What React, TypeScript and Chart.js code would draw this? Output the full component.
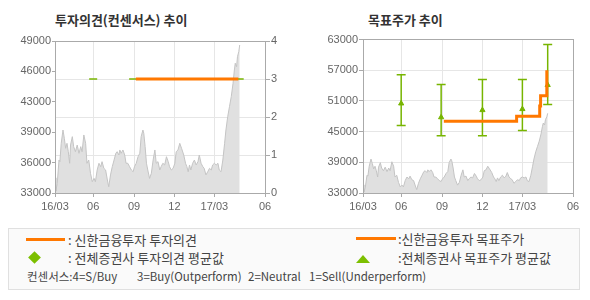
import React, { useEffect, useRef } from 'react';
import { Chart, registerables } from 'chart.js';

Chart.register(...registerables);

// x axis: days counted from 2016-03-01
const xMin = 6;
const xMax = 479;
const xTickDays = [6, 92, 184, 275, 365, 479];
const xTickLabels = ['16/03', '06', '09', '12', '17/03', '06'];

// stock price (gray area), day index / price
const priceDays = [
  6, 8, 11, 15, 17, 20, 24, 27, 30, 33,
  36, 39, 41, 45, 48, 52, 56, 60, 64, 67,
  71, 75, 78, 82, 86, 90, 94, 97, 101, 105,
  109, 112, 116, 120, 124, 127, 131, 135, 139, 143,
  146, 150, 152, 155, 159, 163, 166, 170, 174, 178,
  182, 185, 189, 193, 197, 200, 204, 206, 209, 212,
  215, 219, 223, 227, 231, 234, 238, 242, 245, 249,
  253, 257, 261, 264, 268, 272, 276, 279, 283, 287,
  291, 296, 300, 303, 306, 309, 312, 316, 320, 324,
  328, 331, 335, 339, 342, 346, 350, 354, 358, 361,
  365, 369, 373, 376, 380, 384, 388, 391, 395, 399,
  403, 407, 410, 412, 415, 417, 420, 422,
];
const priceValues = [
  34600, 33200, 34000, 36470, 36300, 38230, 39630, 38760, 37710, 38230,
  37350, 36130, 38050, 38930, 37880, 37350, 38050, 37180, 37880, 37350,
  39110, 38230, 36130, 36470, 35070, 34190, 34540, 34190, 35420, 36130,
  35770, 36300, 35600, 35420, 34370, 33660, 34900, 35770, 36470, 37180,
  37350, 37000, 37530, 37180, 37530, 37000, 36130, 36130, 35770, 35420,
  35240, 35770, 36130, 36820, 37180, 38930, 39630, 39290, 37880, 36130,
  35420, 34540, 35070, 36470, 37530, 36130, 36300, 35420, 35770, 36130,
  35950, 36820, 36300, 35770, 35420, 35600, 36130, 37350, 37530, 38230,
  37710, 37000, 36130, 35770, 35240, 35950, 35420, 36130, 36470, 35950,
  36300, 37000, 36130, 35770, 35600, 34900, 35240, 35600, 35420, 35950,
  36130, 35950, 36130, 35420, 35240, 36470, 38230, 39630, 41040, 42090,
  43140, 44550, 45950, 46660, 46300, 47350, 47880, 48580,
];

// Shinhan investment opinion (3 = Buy)
const opinionDays = [188, 419];
const opinionValues = [3, 3];

// consensus (all brokers) average opinion
const consensusDays = [92, 182, 275, 365, 422];
const consensusOpinion = [3, 3, 3, 3, 3];

// Shinhan target price (step line)
const targetDays = [188, 352, 404, 406, 420];
const targetValues = [47000, 48000, 50000, 52000, 57000];

// consensus target price: mean / high / low
const consensusTargetMean = [50500, 47800, 49200, 49400, 54100];
const consensusTargetHigh = [56100, 54200, 55200, 55200, 62000];
const consensusTargetLow = [46200, 44200, 44200, 45200, 50300];

// axis ticks
const leftPriceTicks = [33000, 36200, 39400, 42600, 45800, 49000];
const leftPriceTickLabels = ['33000', '36000', '39000', '43000', '46000', '49000'];
const opinionTicks = [0, 1, 2, 3, 4];
const rightPriceTicks = [33000, 39000, 45000, 51000, 57000, 63000];

const ORANGE = '#ff7800';
const GREEN = '#77b500';
const GRID = '#e6e6e6';
const TICKC = '#aaaaaa';
const TEXT = '#666666';
const TICK_FONT = { family: "'Liberation Sans', Arial, sans-serif", size: 11 };

const boxPlugin = {
  id: 'plotBox',
  afterDraw(chart: any) {
    const { ctx, chartArea: a } = chart;
    ctx.save();
    ctx.strokeStyle = '#aaaaaa';
    ctx.lineWidth = 1;
    const l = Math.floor(a.left), t = Math.floor(a.top), r = Math.floor(a.right), b = Math.floor(a.bottom);
    ctx.strokeRect(l + 0.5, t + 0.5, r - l, b - t);
    ctx.restore();
  },
};

function xScale() {
  return {
    type: 'linear',
    min: xMin,
    max: xMax,
    afterBuildTicks: (s: any) => { s.ticks = xTickDays.map((v) => ({ value: v })); },
    afterFit: (s: any) => { s.height = 32; },
    ticks: {
      autoSkip: false,
      maxRotation: 0,
      padding: 3,
      color: TEXT,
      font: TICK_FONT,
      callback: (_v: any, i: number) => xTickLabels[i],
    },
    grid: { color: GRID, tickColor: TICKC, tickLength: 4 },
    border: { display: false },
  };
}

const priceData = () => priceDays.map((d, i) => ({ x: d, y: priceValues[i] }));

export default function App() {
  const leftRef = useRef<HTMLCanvasElement>(null);
  const rightRef = useRef<HTMLCanvasElement>(null);

  useEffect(() => {
    const left = new Chart(leftRef.current as HTMLCanvasElement, {
      type: 'line',
      data: {
        datasets: [
          {
            data: opinionDays.map((d, i) => ({ x: d, y: opinionValues[i] })),
            yAxisID: 'y1',
            borderColor: ORANGE,
            borderWidth: 3,
            pointRadius: 0,
            order: 0,
          },
          {
            data: consensusDays.map((d, i) => ({ x: d, y: consensusOpinion[i] })),
            yAxisID: 'y1',
            showLine: false,
            pointStyle: 'line',
            pointRadius: 4,
            pointBorderWidth: 1.5,
            pointBorderColor: GREEN,
            borderColor: GREEN,
            order: 1,
          },
          {
            data: priceData(),
            yAxisID: 'y',
            borderColor: '#c4c4c4',
            borderWidth: 1,
            backgroundColor: '#e0e0e0',
            fill: 'start',
            pointRadius: 0,
            tension: 0,
            order: 5,
          },
        ] as any,
      },
      options: {
        animation: false,
        responsive: false,
        maintainAspectRatio: false,
        layout: { padding: { top: 41, left: 0, right: 0, bottom: 0 } },
        plugins: { legend: { display: false }, tooltip: { enabled: false }, title: { display: false } },
        scales: {
          x: xScale() as any,
          y: {
            type: 'linear',
            position: 'left',
            min: 33000,
            max: 49000,
            afterBuildTicks: (s: any) => { s.ticks = leftPriceTicks.map((v) => ({ value: v })); },
            afterFit: (s: any) => { s.width = 55; },
            ticks: {
              padding: 1,
              color: TEXT,
              font: TICK_FONT,
              callback: (_v: any, i: number) => leftPriceTickLabels[i],
            },
            grid: { drawOnChartArea: false, tickColor: TICKC, tickLength: 3 },
            border: { display: false },
          },
          y1: {
            type: 'linear',
            position: 'right',
            min: 0,
            max: 4,
            afterBuildTicks: (s: any) => { s.ticks = opinionTicks.map((v) => ({ value: v })); },
            afterFit: (s: any) => { s.width = 30; },
            ticks: { padding: 1, color: TEXT, font: TICK_FONT, callback: (v: any) => String(v) },
            grid: { color: GRID, tickColor: TICKC, tickLength: 5 },
            border: { display: false },
          },
        },
      },
      plugins: [boxPlugin],
    });

    const errorBarData: any[] = [];
    consensusDays.forEach((d, i) => {
      errorBarData.push({ x: d, y: consensusTargetLow[i] });
      errorBarData.push({ x: d, y: consensusTargetHigh[i] });
      errorBarData.push({ x: d, y: null });
    });

    const right = new Chart(rightRef.current as HTMLCanvasElement, {
      type: 'line',
      data: {
        datasets: [
          {
            data: targetDays.map((d, i) => ({ x: d, y: targetValues[i] })),
            borderColor: ORANGE,
            borderWidth: 3,
            stepped: true,
            pointRadius: 0,
            order: 0,
          },
          {
            data: consensusDays.map((d, i) => ({ x: d, y: consensusTargetMean[i] })),
            showLine: false,
            pointStyle: 'triangle',
            pointRadius: 3,
            pointBackgroundColor: GREEN,
            pointBorderColor: GREEN,
            pointBorderWidth: 1,
            order: 1,
          },
          {
            data: errorBarData,
            spanGaps: false,
            borderColor: GREEN,
            borderWidth: 1.5,
            pointStyle: 'line',
            pointRadius: 4.5,
            pointBorderWidth: 1.5,
            pointBorderColor: GREEN,
            order: 2,
          },
          {
            data: priceData(),
            borderColor: '#c4c4c4',
            borderWidth: 1,
            backgroundColor: '#e0e0e0',
            fill: 'start',
            pointRadius: 0,
            tension: 0,
            order: 5,
          },
        ] as any,
      },
      options: {
        animation: false,
        responsive: false,
        maintainAspectRatio: false,
        layout: { padding: { top: 39.5, left: 0, right: 17, bottom: 0 } },
        plugins: { legend: { display: false }, tooltip: { enabled: false }, title: { display: false } },
        scales: {
          x: xScale() as any,
          y: {
            type: 'linear',
            position: 'left',
            min: 33000,
            max: 63000,
            afterBuildTicks: (s: any) => { s.ticks = rightPriceTicks.map((v) => ({ value: v })); },
            afterFit: (s: any) => { s.width = 68; },
            ticks: { padding: 1, color: TEXT, font: TICK_FONT, callback: (v: any) => String(v) },
            grid: { color: GRID, tickColor: TICKC, tickLength: 4 },
            border: { display: false },
          },
        },
      },
      plugins: [boxPlugin],
    });

    return () => {
      left.destroy();
      right.destroy();
    };
  }, []);

  const kr = "'Noto Sans CJK KR', sans-serif";
  const legendText = (left: number, top: number, text: string, size = 13): React.ReactElement => (
    <div style={{ position: 'absolute', left, top, fontSize: size, lineHeight: '16px', color: '#444', whiteSpace: 'pre' }}>{text}</div>
  );

  return (
    <div style={{ position: 'absolute', left: 0, top: 0, width: 590, height: 300, background: '#fff', fontFamily: kr, overflow: 'hidden' }}>
      <div style={{ position: 'absolute', left: 55, top: 12, fontSize: 13, fontWeight: 'bold', color: '#333', lineHeight: '16px', whiteSpace: 'nowrap' }}>투자의견(컨센서스) 추이</div>
      <div style={{ position: 'absolute', left: 368, top: 12, fontSize: 13, fontWeight: 'bold', color: '#333', lineHeight: '16px', whiteSpace: 'nowrap' }}>목표주가 추이</div>
      <canvas ref={leftRef} width={295} height={225} style={{ position: 'absolute', left: 0, top: 0, width: 295, height: 225 }} />
      <canvas ref={rightRef} width={295} height={225} style={{ position: 'absolute', left: 295, top: 0, width: 295, height: 225 }} />

      <div style={{ position: 'absolute', left: 8, top: 228, width: 570, height: 60, background: '#fafafa', border: '1px solid #e0e0e0' }} />
      <div style={{ position: 'absolute', left: 26, top: 238, width: 39, height: 3, background: ORANGE }} />
      {legendText(68, 232, ': 신한금융투자 투자의견')}
      <div style={{ position: 'absolute', left: 30, top: 253, width: 9, height: 9, background: '#7cbf00', transform: 'rotate(45deg)' }} />
      {legendText(68, 250, ': 전체증권사 투자의견 평균값')}
      <div style={{ position: 'absolute', left: 356, top: 237, width: 40, height: 3, background: ORANGE }} />
      {legendText(398, 231, ':신한금융투자 목표주가')}
      <div style={{ position: 'absolute', left: 356, top: 255, width: 0, height: 0, borderLeft: '7px solid transparent', borderRight: '7px solid transparent', borderBottom: '8px solid #7cbf00' }} />
      {legendText(398, 250, ':전체증권사 목표주가 평균값')}
      {legendText(27, 268, '컨센서스:4=S/Buy', 11.5)}
      {legendText(137, 268, '3=Buy(Outperform)', 11.5)}
      {legendText(248, 268, '2=Neutral', 11.5)}
      {legendText(309, 268, '1=Sell(Underperform)', 11.5)}
    </div>
  );
}
